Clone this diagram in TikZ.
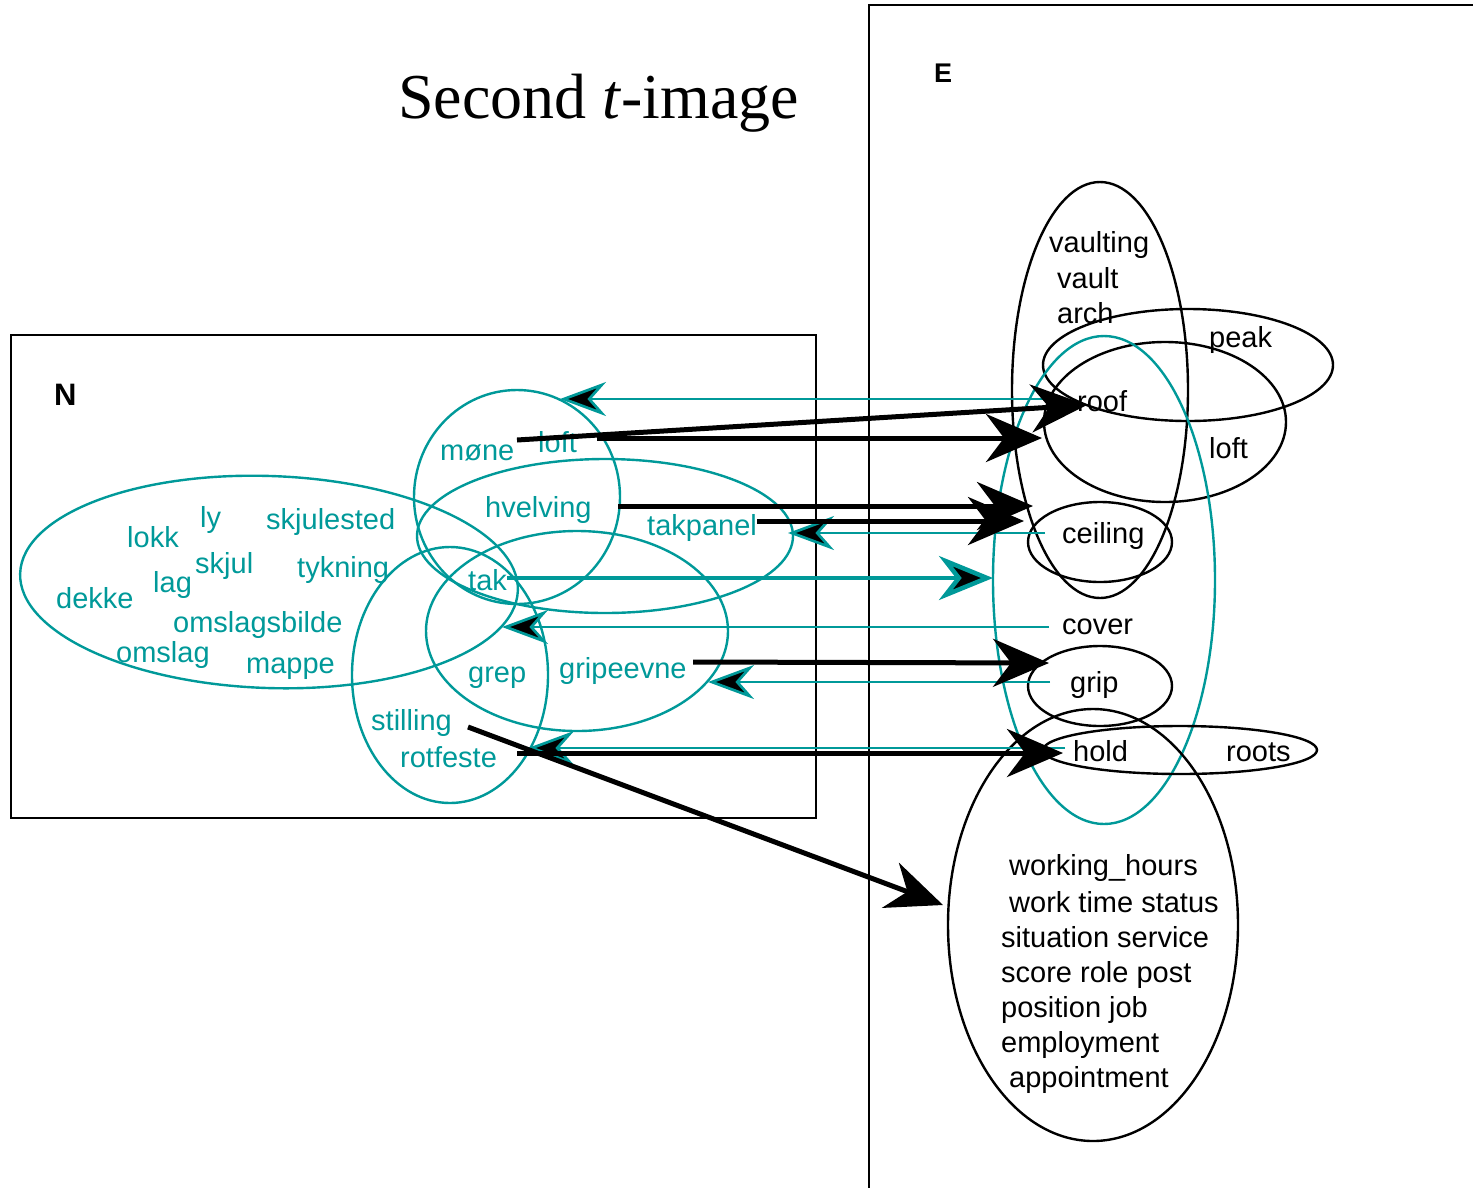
\documentclass[tikz,border=0pt]{standalone}
\usepackage{fontspec}
\setmainfont{Liberation Serif}
\newfontfamily\labfont{Liberation Sans}
\usetikzlibrary{arrows.meta}
\definecolor{tealc}{RGB}{0,153,153}

\begin{document}
\begin{tikzpicture}[x=1pt,y=-1pt,
  lbl/.style={font=\labfont\fontsize{29}{35}\selectfont, inner sep=0pt, anchor=base west},
  nw/.style={lbl, text=tealc},
  ew/.style={lbl, text=black},
  ring/.style={line width=2.4pt},
  nring/.style={ring, draw=tealc},
  ering/.style={ring, draw=black},
  frame/.style={line width=2.4pt, draw=black},
  fwd/.style={draw=black, line width=5pt, -{Stealth[length=56pt,width=48pt,inset=18pt]}},
  tealfwd/.style={draw=tealc, line width=4.5pt, -{Stealth[length=54pt,width=44pt,inset=17pt,fill=black]}},
  back/.style={draw=tealc, line width=2.7pt, -{Stealth[length=46pt,width=34pt,inset=15pt,fill=black]}}
]
\useasboundingbox (0,0) rectangle (1473,1187);

% title
\node[anchor=base west, inner sep=0pt, font=\fontsize{64}{70}\selectfont] (title) at (398,118) {Second \textit{t}-image};

% language frames
\draw[frame] (11,335) rectangle (816,818);
\draw[frame] (869,1190) -- (869,5) -- (1476,5);
\node[anchor=base west, inner sep=0pt, font=\labfont\bfseries\fontsize{31}{35}\selectfont] (N) at (54,405) {N};
\node[anchor=base west, inner sep=0pt, font=\labfont\bfseries\fontsize{27}{32}\selectfont] (E) at (934,82) {E};

% Norwegian word groups
\draw[nring, rotate around={-2:(269,582)}] (269,582) ellipse [x radius=249, y radius=106];
\draw[nring] (517,497) ellipse [x radius=103, y radius=107];
\draw[nring] (605,536) ellipse [x radius=188, y radius=77];
\draw[nring] (577,631) ellipse [x radius=151, y radius=100];
\draw[nring] (450,675) ellipse [x radius=98, y radius=128];

% English word groups
\draw[ering] (1100,390) ellipse [x radius=88, y radius=208];
\draw[ering] (1188,365) ellipse [x radius=145, y radius=56];
\draw[ering] (1165,422) ellipse [x radius=121, y radius=80];
\draw[nring] (1104,580) ellipse [x radius=111, y radius=244];
\draw[ering] (1100,542) ellipse [x radius=72, y radius=40];
\draw[ering] (1100,686) ellipse [x radius=72, y radius=40];
\draw[ering] (1180,750) ellipse [x radius=137, y radius=24];
\draw[ering] (1093,925) ellipse [x radius=145, y radius=216];

% Norwegian words
\node[nw] (mone) at (440,460) {møne};
\node[nw] (loftN) at (538,452) {loft};
\node[nw] (hvelving) at (485,517) {hvelving};
\node[nw] (takpanel) at (647,535) {takpanel};
\node[nw] (tak) at (468,590) {tak};
\node[nw] (lokk) at (127,547) {lokk};
\node[nw] (ly) at (200,527) {ly};
\node[nw] (skjulested) at (266,529) {skjulested};
\node[nw] (skjul) at (195,573) {skjul};
\node[nw] (tykning) at (297,577) {tykning};
\node[nw] (lag) at (153,592) {lag};
\node[nw] (dekke) at (56,608) {dekke};
\node[nw] (omslagsbilde) at (173,632) {omslagsbilde};
\node[nw] (omslag) at (116,662) {omslag};
\node[nw] (mappe) at (246,673) {mappe};
\node[nw] (grep) at (468,682) {grep};
\node[nw] (gripeevne) at (559,678) {gripeevne};
\node[nw] (stilling) at (371,730) {stilling};
\node[nw] (rotfeste) at (400,767) {rotfeste};

% English words
\node[ew] (vaulting) at (1049,252) {vaulting};
\node[ew] (vault) at (1057,288) {vault};
\node[ew] (arch) at (1057,323) {arch};
\node[ew] (peak) at (1209,347) {peak};
\node[ew] (roof) at (1077,411) {roof};
\node[ew] (loftE) at (1209,458) {loft};
\node[ew] (ceiling) at (1062,543) {ceiling};
\node[ew] (cover) at (1062,634) {cover};
\node[ew] (grip) at (1070,692) {grip};
\node[ew] (hold) at (1073,761) {hold};
\node[ew] (roots) at (1226,761) {roots};
\node[ew] (w1) at (1009,875) {working\_hours};
\node[ew] (w2) at (1009,912) {work time status};
\node[ew] (w3) at (1001,947) {situation service};
\node[ew] (w4) at (1001,982) {score role post};
\node[ew] (w5) at (1001,1017) {position job};
\node[ew] (w6) at (1001,1052) {employment};
\node[ew] (w7) at (1009,1087) {appointment};

% connector end points
\coordinate (roofT) at (1045,399);   \coordinate (moneT) at (560,399);
\coordinate (ceilT) at (1045,533);   \coordinate (takpT) at (788,533);
\coordinate (covT) at (1049,627);    \coordinate (grepT) at (502,627);
\coordinate (gripT) at (1050,682);   \coordinate (gripeT) at (708,682);
\coordinate (holdT) at (1065,748);   \coordinate (rotT) at (528,748);
\coordinate (takS) at (507,578);     \coordinate (covE) at (993,578);
\coordinate (moneS) at (517,440);    \coordinate (roofE) at (1087,405);
\coordinate (loftS) at (597,438);    \coordinate (loftE2) at (1042,438);
\coordinate (hvS) at (618,506);      \coordinate (vaultE) at (1033,506);
\coordinate (takpS) at (757,521);    \coordinate (ceilE) at (1024,521);
\coordinate (gripeS) at (693,662);   \coordinate (gripE) at (1049,663);
\coordinate (rotS) at (517,753);     \coordinate (holdE) at (1063,753);
\coordinate (stilS) at (468,727);    \coordinate (workE) at (943,905);

% English to Norwegian
\draw[back] (roofT) -- (moneT);
\draw[back] (ceilT) -- (takpT);
\draw[back] (covT) -- (grepT);
\draw[back] (gripT) -- (gripeT);
\draw[back] (holdT) -- (rotT);

% Norwegian to English
\draw[tealfwd] (takS) -- (covE);
\draw[fwd] (moneS) -- (roofE);
\draw[fwd] (loftS) -- (loftE2);
\draw[fwd] (hvS) -- (vaultE);
\draw[fwd] (takpS) -- (ceilE);
\draw[fwd] (gripeS) -- (gripE);
\draw[fwd] (rotS) -- (holdE);
\draw[fwd] (stilS) -- (workE);
\end{tikzpicture}
\end{document}
